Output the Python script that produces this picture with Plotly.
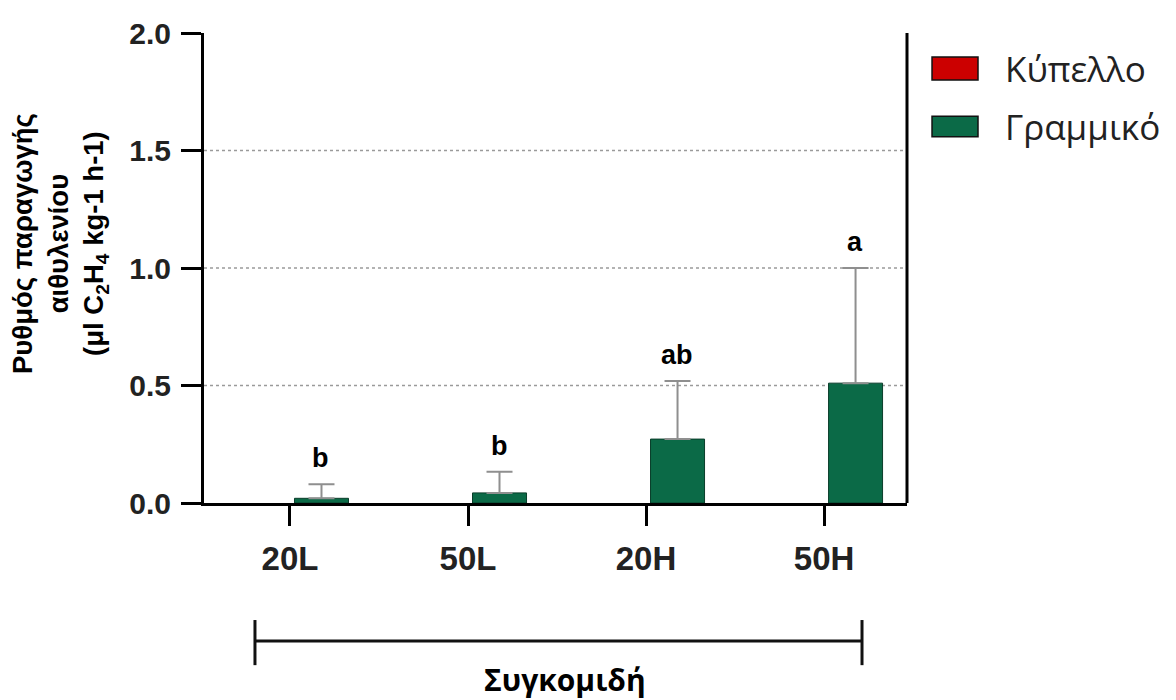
import plotly.graph_objects as go

# ---- data ----
categories = ["20L", "50L", "20H", "50H"]
series_names = ["Κύπελλο", "Γραμμικό"]
kypello = [0, 0, 0, 0]
grammiko = [0.02, 0.043, 0.272, 0.51]
grammiko_err = [0.06, 0.09, 0.247, 0.49]
letters = ["b", "b", "ab", "a"]
y_ticks = [0.0, 0.5, 1.0, 1.5, 2.0]
y_title = "Ρυθμός παραγωγής<br>αιθυλενίου<br>(μl C<sub>2</sub>H<sub>4</sub> kg-1 h-1)"
x_title = "Συγκομιδή"

colors = ["#cc0000", "#0b6a47"]
ARIAL = "Liberation Sans, Arial, sans-serif"
OPEN = "Open Sans, Noto Sans, sans-serif"

fig = go.Figure()
fig.add_bar(
    x=categories, y=kypello, name=series_names[0], showlegend=False,
    marker=dict(color=colors[0], line=dict(width=0)),
)
fig.add_bar(
    x=categories, y=grammiko, name=series_names[1], showlegend=False,
    marker=dict(color=colors[1], line=dict(color="#0a3d2a", width=1)),
    error_y=dict(type="data", array=grammiko_err, arrayminus=[0] * len(grammiko),
                 symmetric=False, color="#8f8f8f", thickness=2, width=13),
)

shapes = []
# dotted grid lines (interior ticks only)
for t in y_ticks[1:-1]:
    shapes.append(dict(type="line", xref="paper", yref="y", x0=0, x1=1, y0=t, y1=t,
                       line=dict(color="#9a9a9a", width=1.5, dash="dot"), layer="below"))
# right border
shapes.append(dict(type="line", xref="paper", yref="paper", x0=1, x1=1, y0=0, y1=1,
                   line=dict(color="black", width=3)))
# bracket under the categories
bx0, bx1, by, bcap0, bcap1 = 0.0725, 0.936, -0.2936, -0.249, -0.345
shapes.append(dict(type="line", xref="paper", yref="paper", x0=bx0, x1=bx1, y0=by, y1=by,
                   line=dict(color="#111", width=3)))
for bx in (bx0, bx1):
    shapes.append(dict(type="line", xref="paper", yref="paper", x0=bx, x1=bx, y0=bcap0, y1=bcap1,
                       line=dict(color="#111", width=3)))

annotations = []
# significance letters
for c, v, e, l in zip(categories, grammiko, grammiko_err, letters):
    annotations.append(dict(x=c, y=v + e, text=l, showarrow=False, xref="x", yref="y",
                            xanchor="center", yanchor="bottom", xshift=31, yshift=9,
                            font=dict(family=ARIAL, size=27, color="black", weight="bold")))
# y title
annotations.append(dict(x=-0.205, y=0.553, xref="paper", yref="paper", text=y_title,
                        textangle=-90, showarrow=False, xanchor="center", yanchor="middle",
                        font=dict(family=ARIAL, size=27.5, color="black", weight="bold")))
# x bracket title
annotations.append(dict(x=0.5135, y=-0.376, xref="paper", yref="paper", text=x_title,
                        showarrow=False, xanchor="center", yanchor="middle",
                        font=dict(family=OPEN, size=30, color="black", weight="bold")))
# manual legend
leg_rows = [(0.949, 0.900, 0.9255), (0.823, 0.779, 0.800)]
for (y0, y1, yt), name, col in zip(leg_rows, series_names, colors):
    shapes.append(dict(type="rect", xref="paper", yref="paper", x0=1.0356, x1=1.101, y0=y0, y1=y1,
                       fillcolor=col, line=dict(color="#111", width=1.5)))
    annotations.append(dict(x=1.137, y=yt, xref="paper", yref="paper", text=name, showarrow=False,
                            xanchor="left", yanchor="middle",
                            font=dict(family=OPEN, size=35, color="#222")))

fig.update_layout(
    width=1176, height=700, autosize=False,
    margin=dict(l=204, r=269, t=33, b=197, pad=0),
    paper_bgcolor="white", plot_bgcolor="white",
    barmode="group", bargap=0.292, bargroupgap=0.143,
    showlegend=False,
    shapes=shapes, annotations=annotations,
)
fig.update_xaxes(
    type="category", range=[-0.483, 3.466],
    showline=True, linecolor="black", linewidth=3,
    ticks="outside", ticklen=20, tickwidth=3, tickcolor="black",
    tickfont=dict(family=ARIAL, size=33, color="#222", weight="bold"),
    ticklabelstandoff=4, showgrid=False, zeroline=False,
)
fig.update_yaxes(
    range=[0, 2.0], tickvals=y_ticks, tickformat=".1f",
    showline=True, linecolor="black", linewidth=3,
    ticks="outside", ticklen=20, tickwidth=3, tickcolor="black",
    tickfont=dict(family=ARIAL, size=30, color="#222", weight="bold"),
    ticklabelstandoff=4, showgrid=False, zeroline=False,
)

fig.write_html("out.html")
